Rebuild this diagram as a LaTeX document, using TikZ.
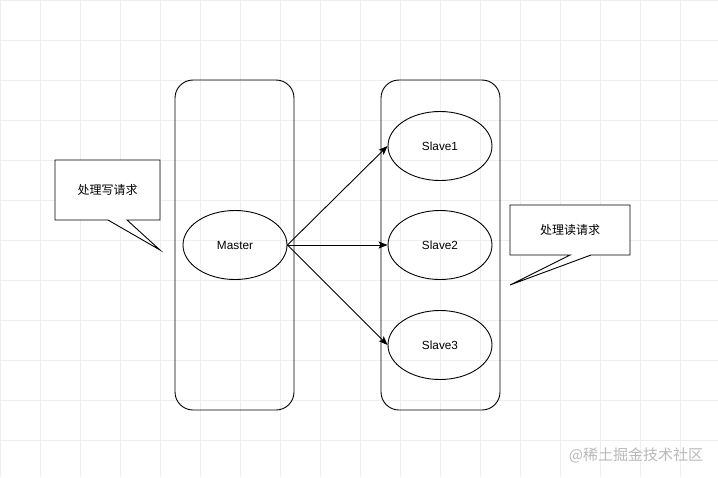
\documentclass[tikz,border=0pt]{standalone}
\usepackage{fontspec}
\setmainfont{Liberation Sans}
\newfontfamily\cjk{Noto Sans CJK SC}
\usetikzlibrary{shapes.geometric,arrows.meta}
\definecolor{gridc}{RGB}{238,238,238}
\definecolor{wmark}{RGB}{185,185,185}
\tikzset{
  panel/.style={draw=black, line width=0.9pt, rounded corners=18pt, minimum width=119pt, minimum height=330pt, inner sep=0pt},
  oval/.style={draw=black, line width=0.9pt, ellipse, minimum width=104pt, minimum height=69pt, inner sep=0pt, font=\fontsize{11.8pt}{14pt}\selectfont},
  conn/.style={line width=0.9pt, -{Stealth[length=9pt,width=7pt,inset=2pt]}},
  callout/.style={draw=black, line width=0.9pt, fill=white, line join=miter},
  ctext/.style={font=\cjk\fontsize{12pt}{14pt}\selectfont, inner sep=0pt}
}
\begin{document}
\begin{tikzpicture}[x=1pt,y=-1pt]
\useasboundingbox (0,0) rectangle (718,477);
\fill[white] (0,0) rectangle (718,477);
\foreach \i in {0,40,...,720} {\draw[gridc, line width=0.8pt] (\i,0) -- (\i,477);}
\foreach \j in {0,40,...,477} {\draw[gridc, line width=0.8pt] (0,\j) -- (718,\j);}
% panels
\node[panel] (mpanel) at (234.5,245) {};
\node[panel] (spanel) at (440.5,245) {};
% ellipses
\node[oval] (master) at (235,245) {Master};
\node[oval] (s1) at (440,146) {Slave1};
\node[oval] (s2) at (440,245) {Slave2};
\node[oval] (s3) at (440,345) {Slave3};
% connectors
\draw[conn] (master.east) -- (s1.west);
\draw[conn] (master.east) -- (s2.west);
\draw[conn] (master.east) -- (s3.west);
% callouts
\coordinate (wtip) at (160,250);
\draw[callout] (55,160) -- (160,160) -- (160,220) -- (127,220) -- (wtip) -- (108,220) -- (55,220) -- cycle;
\node[ctext] (wlabel) at (107.5,190) {处理写请求};
\coordinate (rtip) at (510,285);
\draw[callout] (510,205) -- (630,205) -- (630,255) -- (591,255) -- (rtip) -- (570,255) -- (510,255) -- cycle;
\node[ctext] (rlabel) at (570,230) {处理读请求};
% watermark
\node[font=\cjk\fontsize{15pt}{17pt}\selectfont, text=wmark, inner sep=0pt] (wm) at (636,455) {@稀土掘金技术社区};
\end{tikzpicture}
\end{document}
